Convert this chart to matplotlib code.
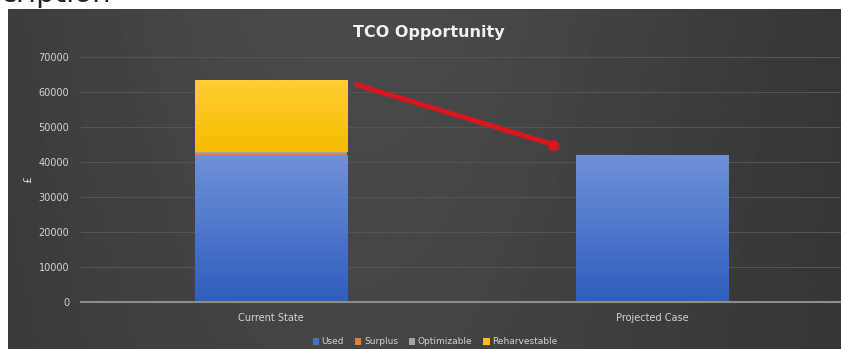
import matplotlib.pyplot as plt
import numpy as np

# data
categories = ['Current State', 'Projected Case']
used = [42000, 42000]
surplus = [450, 0]
optimizable = [450, 0]
reharvestable = [20400, 0]
series_names = ['Used', 'Surplus', 'Optimizable', 'Reharvestable']
yticks = [0, 10000, 20000, 30000, 40000, 50000, 60000, 70000]

colors = ['#4472c4', '#ed7d31', '#a5a5a5', '#ffc000']
grad = {'#4472c4': ('#6f90d8', '#2f5ebd'), '#ffc000': ('#ffcd35', '#f4bd00')}

W, H = 841, 349
fig = plt.figure(figsize=(W / 100, H / 100), dpi=100)
fig.patch.set_facecolor('white')

# leftover text from the page behind the chart
fig.text(0.0, 1.018, 'cription', fontsize=21, color='#222222',
         ha='left', va='center', zorder=-5)

# dark chart panel with soft gradient
bg = fig.add_axes([8 / W, 0, 1 - 8 / W, 340 / H], zorder=0)
gx = np.linspace(0, 1, 300)
gy = np.linspace(0, 1, 120)
X, Y = np.meshgrid(gx, gy)
shade = 0.19 + 0.10 * np.exp(-((X - 0.42) / 0.5) ** 2) * (0.8 + 0.2 * Y)
bg.imshow(shade, cmap='gray', vmin=0, vmax=1, aspect='auto',
          extent=[0, 1, 0, 1], origin='lower')
bg.set_xlim(0, 1)
bg.set_ylim(0, 1)
bg.axis('off')

ax = fig.add_axes([80.5 / W, 1 - 302 / H, 762 / W, 245 / H], zorder=1)
ax.set_facecolor('none')

x = np.arange(len(categories))
width = 0.4
bottom = np.zeros(len(categories))
for name, vals, c in zip(series_names, [used, surplus, optimizable, reharvestable], colors):
    bars = ax.bar(x, vals, width, bottom=bottom, color=c, label=name,
                  edgecolor='none', zorder=2)
    if c in grad:
        top_c, bot_c = grad[c]
        cmap = plt.matplotlib.colors.LinearSegmentedColormap.from_list('g', [bot_c, top_c])
        for b in bars:
            if b.get_height() <= 0:
                continue
            x0, y0 = b.get_x(), b.get_y()
            im = ax.imshow(np.linspace(0, 1, 50).reshape(-1, 1), cmap=cmap,
                           aspect='auto', origin='lower', zorder=2.5,
                           extent=[x0, x0 + b.get_width(), y0, y0 + b.get_height()])
            im.set_clip_path(b)
    bottom = bottom + np.array(vals)

ax.set_xlim(-0.5, 1.5)
ax.set_ylim(0, 70000)
ax.set_yticks(yticks)
ax.set_xticks(x)
ax.set_xticklabels(categories)
ax.grid(axis='y', color='#555555', linewidth=0.7, zorder=0)
ax.set_axisbelow(True)
for s in ['top', 'right', 'left']:
    ax.spines[s].set_visible(False)
ax.spines['bottom'].set_color('#8c8c8c')
ax.spines['bottom'].set_linewidth(1.5)
ax.spines['bottom'].set_zorder(3)
ax.tick_params(axis='y', length=0, pad=8, labelsize=7, labelcolor='#d4d4d4')
ax.tick_params(axis='x', length=0, pad=8, labelsize=7, labelcolor='#d4d4d4')
ax.set_ylabel('£', color='#d4d4d4', fontsize=8, labelpad=4)

# red arrow from current total down to projected total
start = (x[0] + width / 2 + 0.025, bottom[0] - 1200)
end = (x[1] - width / 2 - 0.06, bottom[1] + 3000)
ax.annotate('', xy=end, xytext=start,
            arrowprops=dict(arrowstyle='-', color='#d8161d', lw=3.6,
                            shrinkA=0, shrinkB=0, capstyle='round'),
            zorder=4)
ax.plot([end[0]], [end[1]], 'o', color='#d8161d', markersize=7, zorder=4)

fig.text(0.51, 1 - 32 / H, 'TCO Opportunity', fontsize=11.5, fontweight='bold',
         color='#f0f0f0', ha='center', va='center')

leg = ax.legend(loc='center', bbox_to_anchor=(435 / W, 1 - 342 / H),
                bbox_transform=fig.transFigure, ncol=4, frameon=False,
                fontsize=6.5, handlelength=0.7, handleheight=0.7,
                handletextpad=0.3, columnspacing=1.2)
for t in leg.get_texts():
    t.set_color('#d4d4d4')

plt.savefig('out.png', dpi=100)
